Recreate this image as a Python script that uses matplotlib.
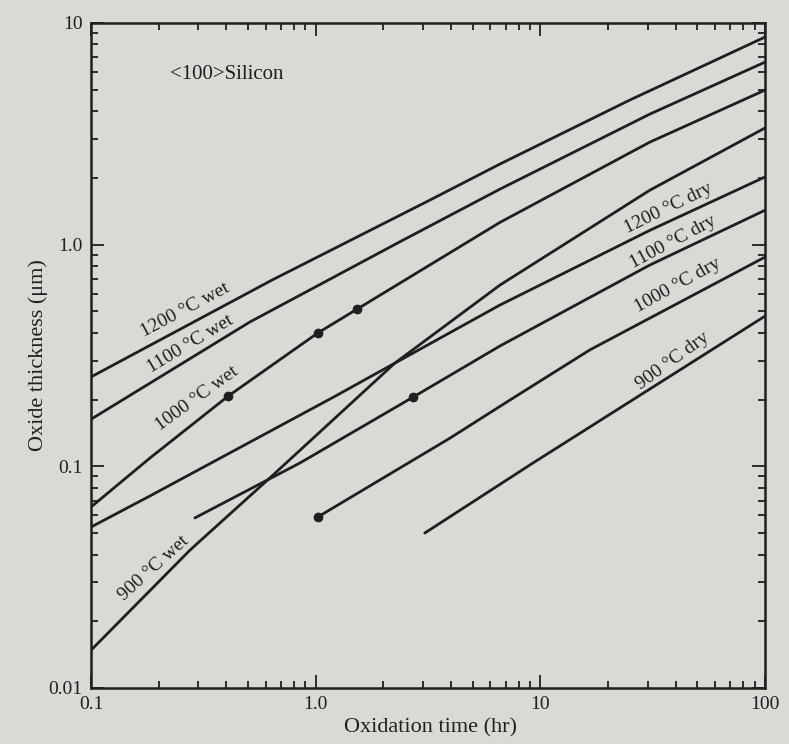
import numpy as np
import matplotlib.pyplot as plt
from matplotlib.ticker import FixedLocator, FixedFormatter, LogLocator, NullFormatter

plt.rcParams['font.family'] = ['Liberation Serif', 'DejaVu Serif']

# oxidation time (hr) and oxide thickness (um)
# wet oxidation
t_1200w = [0.1, 0.639, 3.23, 6.61, 25.0, 100]
x_1200w = [0.253, 0.692, 1.59, 2.31, 4.49, 8.64]

t_1100w = [0.1, 0.51, 2.37, 6.61, 30.7, 100]
x_1100w = [0.163, 0.448, 1.03, 1.78, 3.88, 6.66]

t_1000w = [0.1, 0.183, 0.407, 1.02, 1.53, 6.61, 30.7, 100]
x_1000w = [0.0655, 0.109, 0.207, 0.399, 0.512, 1.26, 2.90, 4.98]

t_900w = [0.1, 0.276, 0.639, 2.25, 6.61, 30.7, 100]
x_900w = [0.0148, 0.0419, 0.0904, 0.292, 0.657, 1.76, 3.36]

# dry oxidation
t_1200d = [0.1, 0.183, 1.22, 2.25, 6.61, 30.7, 100]
x_1200d = [0.0532, 0.0735, 0.207, 0.292, 0.534, 1.16, 2.02]

t_1100d = [0.29, 0.851, 2.71, 6.61, 30.7, 100]
x_1100d = [0.0585, 0.1035, 0.205, 0.349, 0.809, 1.43]

t_1000d = [1.02, 3.96, 7.32, 16.6, 100]
x_1000d = [0.059, 0.134, 0.199, 0.335, 0.879]

t_900d = [3.06, 9.27, 100]
x_900d = [0.050, 0.1035, 0.476]

# marked points
dot_t = [0.407, 1.02, 1.53, 2.71, 1.02]
dot_x = [0.207, 0.399, 0.512, 0.205, 0.059]

# curve labels: text, position (hr, um), rotation
labels = ["1200 °C wet", "1100 °C wet", "1000 °C wet", "900 °C wet",
          "1200 °C dry", "1100 °C dry", "1000 °C dry", "900 °C dry"]
label_t = [0.262, 0.276, 0.296, 0.191, 37.0, 38.9, 41.0, 38.9]
label_x = [0.507, 0.356, 0.203, 0.0348, 1.46, 1.03, 0.657, 0.298]
label_rot = [28, 31, 36, 42, 26, 28, 29, 36]

bg = '#d9d9d5'
ink = '#1f1f1f'

fig = plt.figure(figsize=(7.89, 7.44), dpi=100, facecolor=bg)
ax = fig.add_axes([0.1153, 0.0753, 0.8543, 0.8938], facecolor=bg)

curves = [(t_1200w, x_1200w), (t_1100w, x_1100w), (t_1000w, x_1000w), (t_900w, x_900w),
          (t_1200d, x_1200d), (t_1100d, x_1100d), (t_1000d, x_1000d), (t_900d, x_900d)]
for t, x in curves:
    ax.plot(t, x, color=ink, lw=2.0, solid_capstyle='round', solid_joinstyle='round')

ax.plot(dot_t, dot_x, 'o', color=ink, ms=6)

for s, t, x, r in zip(labels, label_t, label_x, label_rot):
    ax.text(t, x, s, rotation=r, ha='center', va='center', fontsize=14, color=ink,
            rotation_mode='anchor')

ax.text(0.403, 5.88, "<100>Silicon", ha='center', va='center', fontsize=15, color=ink)

ax.set_xscale('log')
ax.set_yscale('log')
ax.set_xlim(0.1, 100)
ax.set_ylim(0.01, 10)

ax.xaxis.set_major_locator(FixedLocator([0.1, 1, 10, 100]))
ax.xaxis.set_major_formatter(FixedFormatter(["0.1", "1.0", "10", "100"]))
ax.yaxis.set_major_locator(FixedLocator([0.01, 0.1, 1, 10]))
ax.yaxis.set_major_formatter(FixedFormatter(["0.01", "0.1", "1.0", "10"]))
for a in (ax.xaxis, ax.yaxis):
    a.set_minor_locator(LogLocator(base=10, subs=np.arange(2, 10), numticks=20))
    a.set_minor_formatter(NullFormatter())

ax.tick_params(which='both', direction='in', top=True, right=True, colors=ink,
               labelsize=14, width=1.3)
ax.tick_params(which='major', length=9.5, pad=6)
ax.tick_params(which='minor', length=5)
for sp in ax.spines.values():
    sp.set_linewidth(1.8)
    sp.set_color(ink)

ax.set_xlabel("Oxidation time (hr)", fontsize=16, color=ink)
ax.set_ylabel("Oxide thickness (μm)", fontsize=16, color=ink)
ax.xaxis.set_label_coords(0.503, -0.045)
ax.yaxis.set_label_coords(-0.064, 0.50)

fig.savefig("out.png", dpi=100, facecolor=bg)
